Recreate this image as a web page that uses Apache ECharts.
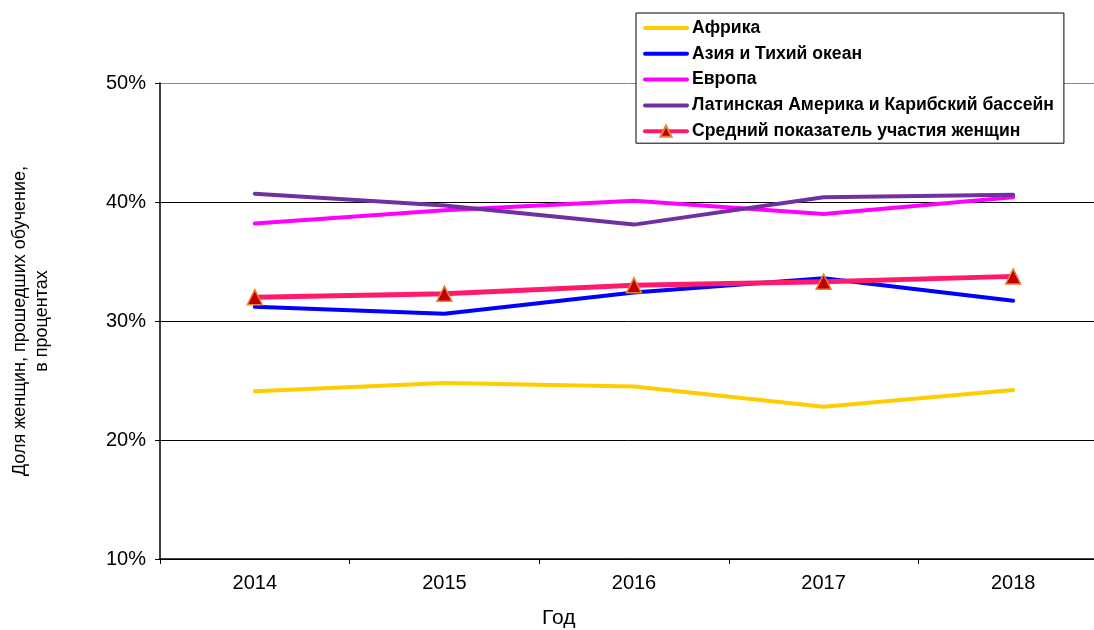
<!DOCTYPE html>
<html>
<head>
<meta charset="utf-8">
<script src="https://cdn.jsdelivr.net/npm/echarts@6/dist/echarts.min.js"></script>
<style>
  html, body { margin: 0; padding: 0; background: #fff; }
  #chart { width: 1094px; height: 630px; }
</style>
</head>
<body>
<div id="chart"></div>
<script>
// Share of women who completed training, by region, %
const years = ['2014', '2015', '2016', '2017', '2018'];
const africa = [24.1, 24.8, 24.5, 22.8, 24.2];
const asiaPacific = [31.2, 30.6, 32.4, 33.6, 31.7];
const europe = [38.2, 39.3, 40.1, 39.0, 40.4];
const latinAmerica = [40.7, 39.7, 38.1, 40.4, 40.6];
const average = [32.0, 32.3, 33.0, 33.3, 33.75];
const yTicks = [10, 20, 30, 40, 50];

const FONT = '"Liberation Sans", Arial, sans-serif';

const chart = echarts.init(document.getElementById('chart'), null, { renderer: 'canvas' });

function lineSeries(name, data, color, width) {
  return {
    name: name,
    type: 'line',
    data: data,
    symbol: 'none',
    lineStyle: { color: color, width: width, cap: 'round', join: 'round' },
    itemStyle: { color: color },
    emphasis: { disabled: true }
  };
}

// plain line icon in the legend for the regional series (no marker)
function plainItem(name) {
  return { name: name, itemStyle: { opacity: 0 } };
}

chart.setOption({
  animation: false,
  textStyle: { fontFamily: FONT },
  grid: { left: 160, right: -14, top: 83, bottom: 71, containLabel: false, outerBoundsMode: 'none' },
  legend: {
    orient: 'vertical',
    left: 636,
    top: 13,
    padding: [6, 10, 3, 7],
    itemWidth: 42,
    itemHeight: 14,
    itemGap: 7.8,
    borderColor: '#000',
    borderWidth: 1,
    backgroundColor: '#fff',
    lineStyle: { width: 4 },
    textStyle: { fontFamily: FONT, fontWeight: 'bold', fontSize: 17.6, color: '#000' },
    data: [
      plainItem('Африка'),
      plainItem('Азия и Тихий океан'),
      plainItem('Европа'),
      plainItem('Латинская Америка и Карибский бассейн'),
      { name: 'Средний показатель участия женщин' }
    ]
  },
  xAxis: {
    type: 'category',
    data: years,
    boundaryGap: true,
    axisLine: { lineStyle: { color: '#000', width: 1.5 } },
    axisTick: { show: true, length: 5, lineStyle: { color: '#000' } },
    axisLabel: { color: '#000', fontSize: 20, margin: 14, fontFamily: FONT },
    splitLine: { show: false }
  },
  yAxis: {
    type: 'value',
    min: yTicks[0],
    max: yTicks[yTicks.length - 1],
    interval: 10,
    axisLine: { show: true, lineStyle: { color: '#000', width: 1.5 } },
    axisTick: { show: true, length: 5, lineStyle: { color: '#000' } },
    axisLabel: { color: '#000', fontSize: 20, margin: 14, fontFamily: FONT, formatter: '{value}%' },
    splitLine: { show: true, lineStyle: { color: ['#000', '#000', '#000', '#000', '#888'], width: 1 } },
    name: 'Доля женщин, прошедших обучение,\nв процентах',
    nameLocation: 'middle',
    nameRotate: 90,
    nameGap: 107,
    nameTextStyle: { color: '#000', fontSize: 18, lineHeight: 22, fontFamily: FONT, align: 'center' }
  },
  graphic: [{
    type: 'text',
    left: 542,
    top: 608,
    style: { text: 'Год', fontSize: 21, fontFamily: FONT, fill: '#000' }
  }],
  series: [
    lineSeries('Африка', africa, '#FFCC00', 4),
    lineSeries('Азия и Тихий океан', asiaPacific, '#0000FF', 4),
    lineSeries('Европа', europe, '#FF00FF', 4),
    lineSeries('Латинская Америка и Карибский бассейн', latinAmerica, '#7030A0', 4),
    {
      name: 'Средний показатель участия женщин',
      type: 'line',
      data: average,
      symbol: 'triangle',
      symbolSize: [15, 15],
      showAllSymbol: true,
      lineStyle: { color: '#FF1A6E', width: 5, cap: 'round', join: 'round' },
      itemStyle: { color: '#C00000', borderColor: '#E8822E', borderWidth: 1.5 },
      emphasis: { disabled: true }
    }
  ]
});
</script>
</body>
</html>
